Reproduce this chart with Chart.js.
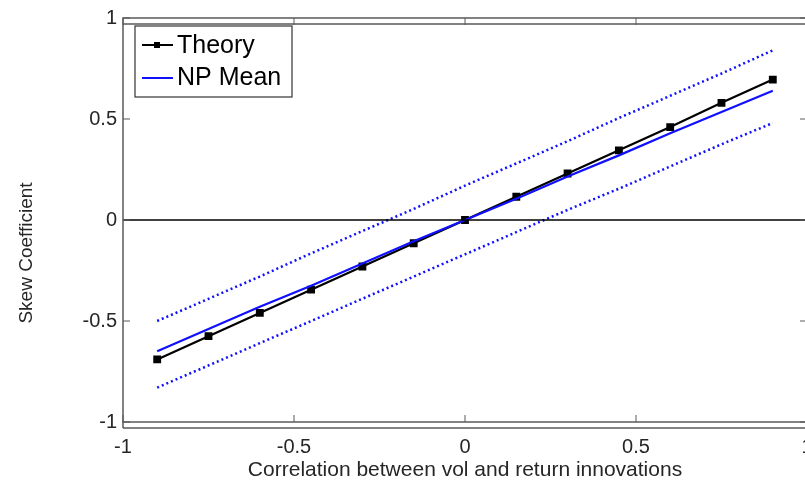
<!DOCTYPE html>
<html>
<head>
<meta charset="utf-8">
<script src="https://cdn.jsdelivr.net/npm/chart.js@4.4.0/dist/chart.umd.min.js"></script>
<style>
  html, body { margin: 0; padding: 0; background: #fff; overflow: hidden; }
  #wrap { width: 834px; height: 487px; position: relative; }
</style>
</head>
<body>
<div id="wrap"><canvas id="skewChart"></canvas></div>
<script>
// ---------------- DATA ----------------
const corrX = [-0.9, -0.75, -0.6, -0.45, -0.3, -0.15, 0, 0.15, 0.3, 0.45, 0.6, 0.75, 0.9];
const theory = [-0.69, -0.575, -0.46, -0.345, -0.23, -0.115, 0, 0.115, 0.23, 0.345, 0.46, 0.58, 0.695];
const npMean = [-0.65, -0.54, -0.43, -0.325, -0.215, -0.105, 0, 0.105, 0.215, 0.32, 0.43, 0.535, 0.64];
const npUpper = [-0.50, -0.39, -0.28, -0.165, -0.055, 0.055, 0.17, 0.28, 0.39, 0.505, 0.615, 0.725, 0.84];
const npLower = [-0.83, -0.72, -0.61, -0.50, -0.39, -0.28, -0.17, -0.06, 0.05, 0.155, 0.265, 0.375, 0.48];
const zeroX = [-1, 1];
const zeroY = [0, 0];
const xTicks = [-1, -0.5, 0, 0.5, 1];
const yTicks = [-1, -0.5, 0, 0.5, 1];

const xLabel = "Correlation between vol and return innovations";
const yLabel = "Skew Coefficient";
const legendItems = ["Theory", "NP Mean"];

const BLUE = "#1010ff";
const AXIS = "#5a5a5a";
const TEXT = "#262626";
const FONT = "Liberation Sans, Arial, sans-serif";

const pts = (xs, ys) => xs.map((x, i) => ({ x: x, y: ys[i] }));

// ---------------- AXES BOX / TICKS / LEGEND ----------------
const boxPlugin = {
  id: "matlabBox",
  afterDatasetsDraw(chart) {
    const { ctx, chartArea: a, scales: { x, y } } = chart;
    ctx.save();
    ctx.strokeStyle = AXIS;
    ctx.lineWidth = 1.5;
    ctx.strokeRect(a.left, a.top, a.right - a.left, a.bottom - a.top);
    // doubled edge lines seen in the scan
    ctx.beginPath();
    ctx.moveTo(a.left, a.top + 6); ctx.lineTo(chart.width, a.top + 6);
    ctx.moveTo(a.left, a.bottom + 6); ctx.lineTo(chart.width, a.bottom + 6);
    ctx.moveTo(a.left, a.bottom); ctx.lineTo(a.left, a.bottom + 6);
    ctx.stroke();
    // inward ticks
    ctx.lineWidth = 1;
    ctx.beginPath();
    xTicks.forEach(v => {
      const px = x.getPixelForValue(v);
      ctx.moveTo(px, a.bottom); ctx.lineTo(px, a.bottom - 7);
      ctx.moveTo(px, a.top); ctx.lineTo(px, a.top + 7);
    });
    yTicks.forEach(v => {
      const py = y.getPixelForValue(v);
      ctx.moveTo(a.left, py); ctx.lineTo(a.left + 7, py);
      ctx.moveTo(a.right, py); ctx.lineTo(a.right - 7, py);
    });
    ctx.stroke();

    // legend
    const lx = 135, ly = 26, lw = 157, lh = 71;
    ctx.fillStyle = "#fff";
    ctx.fillRect(lx, ly, lw, lh);
    ctx.strokeStyle = "#333";
    ctx.lineWidth = 1.2;
    ctx.strokeRect(lx, ly, lw, lh);
    ctx.lineWidth = 2;
    ctx.strokeStyle = "#000";
    ctx.beginPath(); ctx.moveTo(142, 45); ctx.lineTo(173, 45); ctx.stroke();
    ctx.fillStyle = "#000";
    ctx.fillRect(154, 42, 6, 6);
    ctx.strokeStyle = BLUE;
    ctx.beginPath(); ctx.moveTo(142, 78); ctx.lineTo(173, 78); ctx.stroke();
    ctx.fillStyle = "#000";
    ctx.font = "25px " + FONT;
    ctx.textBaseline = "middle";
    ctx.textAlign = "left";
    ctx.fillText(legendItems[0], 177, 46);
    ctx.fillText(legendItems[1], 177, 78);

    // y axis title
    ctx.save();
    ctx.translate(27, 253);
    ctx.rotate(-Math.PI / 2);
    ctx.textAlign = "center";
    ctx.textBaseline = "middle";
    ctx.font = "19px " + FONT;
    ctx.fillStyle = TEXT;
    ctx.fillText(yLabel, 0, 0);
    ctx.restore();
    ctx.restore();
  }
};

// ---------------- CHART ----------------
const ctx = document.getElementById("skewChart").getContext("2d");
new Chart(ctx, {
  type: "line",
  data: {
    datasets: [
      {
        label: "zero",
        data: pts(zeroX, zeroY),
        borderColor: "#000",
        borderWidth: 1.5,
        pointRadius: 0
      },
      {
        label: "NP upper",
        data: pts(corrX, npUpper),
        borderColor: BLUE,
        borderWidth: 2.5,
        borderDash: [2, 3],
        pointRadius: 0
      },
      {
        label: "NP lower",
        data: pts(corrX, npLower),
        borderColor: BLUE,
        borderWidth: 2.5,
        borderDash: [2, 3],
        pointRadius: 0
      },
      {
        label: legendItems[1],
        data: pts(corrX, npMean),
        borderColor: BLUE,
        borderWidth: 2.2,
        pointRadius: 0
      },
      {
        label: legendItems[0],
        data: pts(corrX, theory),
        borderColor: "#000",
        backgroundColor: "#000",
        borderWidth: 2.2,
        pointStyle: "rect",
        pointRadius: 4
      }
    ]
  },
  options: {
    responsive: true,
    maintainAspectRatio: false,
    animation: false,
    layout: { padding: { left: 0, top: 15, right: 27, bottom: 0 } },
    plugins: { legend: { display: false }, tooltip: { enabled: false } },
    scales: {
      x: {
        type: "linear",
        min: -1, max: 1,
        afterBuildTicks: s => { s.ticks = xTicks.map(v => ({ value: v })); },
        afterFit: s => { s.height = 65; },
        grid: { display: false, drawTicks: false },
        border: { display: false },
        ticks: { color: TEXT, font: { size: 20, family: FONT }, padding: 13, maxRotation: 0,
                 callback: v => String(v) },
        title: { display: true, text: xLabel, color: TEXT, font: { size: 21, family: FONT }, padding: { top: 0, bottom: 4 } }
      },
      y: {
        min: -1, max: 1,
        afterBuildTicks: s => { s.ticks = yTicks.map(v => ({ value: v })); },
        afterFit: s => { s.width = 123; },
        grid: { display: false, drawTicks: false },
        border: { display: false },
        ticks: { color: TEXT, font: { size: 20, family: FONT }, padding: 6, callback: v => String(v) }
      }
    }
  },
  plugins: [boxPlugin]
});
</script>
</body>
</html>
